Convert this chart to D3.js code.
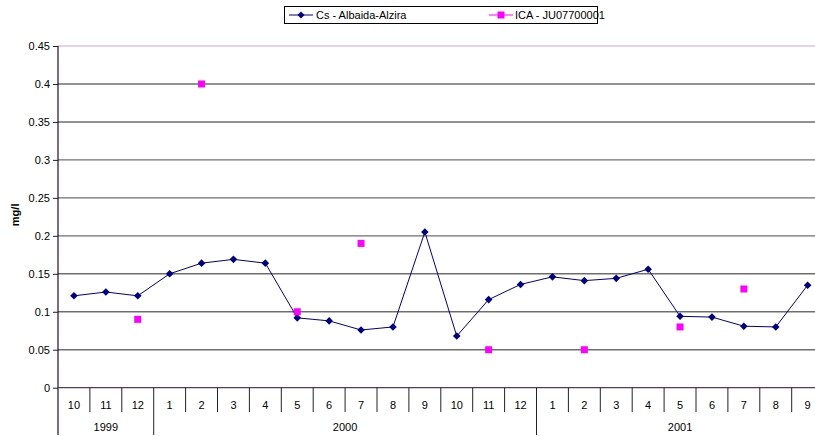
<!DOCTYPE html>
<html>
<head>
<meta charset="utf-8">
<script src="https://cdn.jsdelivr.net/npm/d3@7"></script>
<style>
  html, body { margin: 0; padding: 0; background: #fff; }
  svg { display: block; font-family: "Liberation Sans", Arial, sans-serif; }
</style>
</head>
<body>
<svg id="chart" width="815" height="436"></svg>
<script>
// Monthly periods (year, month)
const years = ["1999", "1999", "1999",
  "2000", "2000", "2000", "2000", "2000", "2000", "2000", "2000", "2000", "2000", "2000", "2000",
  "2001", "2001", "2001", "2001", "2001", "2001", "2001", "2001", "2001"];
const months = ["10", "11", "12",
  "1", "2", "3", "4", "5", "6", "7", "8", "9", "10", "11", "12",
  "1", "2", "3", "4", "5", "6", "7", "8", "9"];

// Cs - Albaida-Alzira (mg/l)
const csValues = [0.121, 0.126, 0.121,
  0.150, 0.164, 0.169, 0.164, 0.092, 0.088, 0.076, 0.080, 0.205, 0.068, 0.116, 0.136,
  0.146, 0.141, 0.144, 0.156, 0.094, 0.093, 0.081, 0.080, 0.135];

// ICA - JU07700001 (mg/l), null where there is no sample
const icaValues = [null, null, 0.09,
  null, 0.40, null, null, 0.10, null, 0.19, null, null, null, 0.05, null,
  null, 0.05, null, null, 0.08, null, 0.13, null, null];

const yTicks = [0, 0.05, 0.1, 0.15, 0.2, 0.25, 0.3, 0.35, 0.4, 0.45];
const seriesNames = ["Cs - Albaida-Alzira", "ICA - JU07700001"];

const svg = d3.select("#chart");
const plot = { left: 58, right: 823.6, top: 46, bottom: 387.7 };

const idx = d3.range(months.length);
const x = d3.scaleBand().domain(idx).range([plot.left, plot.right]).padding(0);
const y = d3.scaleLinear().domain([0, 0.45]).range([plot.bottom, plot.top]);

// Horizontal gridlines
svg.append("g")
  .selectAll("line")
  .data(yTicks.filter(d => d > 0))
  .join("line")
  .attr("x1", plot.left).attr("x2", plot.right)
  .attr("y1", d => y(d)).attr("y2", d => y(d))
  .attr("stroke", d => d === 0.45 ? "#c8a8c8" : "#6e6e6e")
  .attr("stroke-width", d => d === 0.45 ? 1 : 1.4);

// Y axis
const yAxis = d3.axisLeft(y).tickValues(yTicks).tickFormat(d3.format("~g")).tickSize(5).tickPadding(3);
const gy = svg.append("g").attr("transform", `translate(${plot.left},0)`).call(yAxis);
gy.select(".domain").remove();
gy.selectAll(".tick line").attr("stroke", "#222");
gy.selectAll(".tick text").attr("font-size", 11).attr("fill", "#000")
  .attr("font-family", "'Liberation Sans', Arial, sans-serif");
svg.append("line")
  .attr("x1", plot.left).attr("x2", plot.left)
  .attr("y1", plot.top).attr("y2", 435)
  .attr("stroke", "#2a0a2a").attr("stroke-width", 1.2);

// Axis title
svg.append("text")
  .attr("transform", `translate(19,${(plot.top + plot.bottom) / 2 - 2}) rotate(-90)`)
  .attr("text-anchor", "middle")
  .attr("font-size", 11).attr("font-weight", "bold")
  .text("mg/l");

// X axis: baseline, month ticks and labels, year groups
svg.append("line")
  .attr("x1", plot.left).attr("x2", plot.right)
  .attr("y1", plot.bottom).attr("y2", plot.bottom)
  .attr("stroke", "#5a3a5a").attr("stroke-width", 1.2);

const boundaries = d3.range(1, months.length + 1);
svg.append("g")
  .selectAll("line")
  .data(boundaries)
  .join("line")
  .attr("x1", i => i < months.length ? x(i) : plot.right)
  .attr("x2", i => i < months.length ? x(i) : plot.right)
  .attr("y1", plot.bottom)
  .attr("y2", i => (i < months.length && years[i] !== years[i - 1]) ? 435 : 412)
  .attr("stroke", "#222").attr("stroke-width", 1);

svg.append("g")
  .selectAll("text")
  .data(idx)
  .join("text")
  .attr("x", i => x(i) + x.bandwidth() / 2)
  .attr("y", 409)
  .attr("text-anchor", "middle")
  .attr("font-size", 11)
  .text(i => months[i]);

const yearGroups = d3.groups(idx, i => years[i]);
svg.append("g")
  .selectAll("text")
  .data(yearGroups)
  .join("text")
  .attr("x", ([, is]) => (x(is[0]) + x(is[is.length - 1]) + x.bandwidth()) / 2)
  .attr("y", 431)
  .attr("text-anchor", "middle")
  .attr("font-size", 11)
  .text(([yr]) => yr);

// Cs series: line with diamond markers
const cx = i => x(i) + x.bandwidth() / 2;
const line = d3.line().x((d, i) => cx(i)).y(d => y(d));
svg.append("path")
  .datum(csValues)
  .attr("d", line)
  .attr("fill", "none")
  .attr("stroke", "#000080")
  .attr("stroke-width", 1);

const diamond = s => `M0,${-s}L${s},0L0,${s}L${-s},0Z`;
svg.append("g")
  .selectAll("path")
  .data(csValues)
  .join("path")
  .attr("transform", (d, i) => `translate(${cx(i)},${y(d)})`)
  .attr("d", diamond(3.8))
  .attr("fill", "#000080");

// ICA series: square markers only
const icaPoints = idx.filter(i => icaValues[i] !== null);
svg.append("g")
  .selectAll("rect")
  .data(icaPoints)
  .join("rect")
  .attr("x", i => cx(i) - 3.5)
  .attr("y", i => y(icaValues[i]) - 3.5)
  .attr("width", 7).attr("height", 7)
  .attr("fill", "#ff00ff");

// Legend
const legend = svg.append("g");
legend.append("rect")
  .attr("x", 284.5).attr("y", 6.5).attr("width", 313).attr("height", 17)
  .attr("fill", "#fff").attr("stroke", "#000").attr("stroke-width", 1);

legend.append("line").attr("x1", 289).attr("x2", 313).attr("y1", 15).attr("y2", 15)
  .attr("stroke", "#000080").attr("stroke-width", 1);
legend.append("path").attr("transform", "translate(301,15)").attr("d", diamond(3.5)).attr("fill", "#000080");
legend.append("text").attr("x", 316).attr("y", 19).attr("font-size", 11).text(seriesNames[0]);

legend.append("line").attr("x1", 489).attr("x2", 513).attr("y1", 15).attr("y2", 15)
  .attr("stroke", "#ff00ff").attr("stroke-width", 1);
legend.append("rect").attr("x", 497.5).attr("y", 11.5).attr("width", 7).attr("height", 7).attr("fill", "#ff00ff");
legend.append("text").attr("x", 515).attr("y", 19).attr("font-size", 11).text(seriesNames[1]);
</script>
</body>
</html>
